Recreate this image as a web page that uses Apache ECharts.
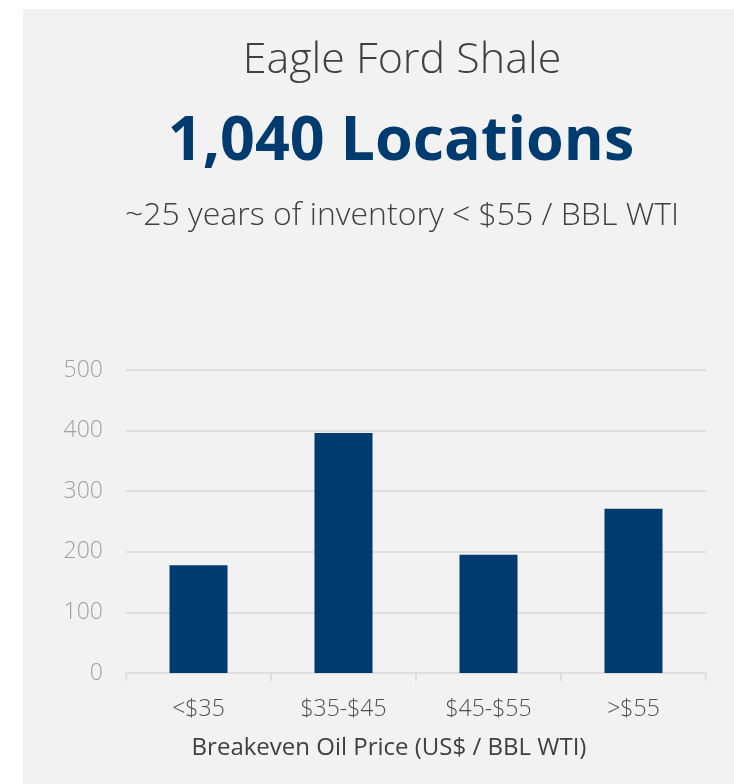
<!DOCTYPE html>
<html>
<head>
<meta charset="utf-8">
<script src="https://cdn.jsdelivr.net/npm/echarts@6/dist/echarts.min.js"></script>
<style>
    html, body { margin: 0; padding: 0; background: #ffffff; }
    #chart { width: 734px; height: 784px; }
</style>
</head>
<body>
<div id="chart"></div>
<script>
var categories = ['<$35', '$35-$45', '$45-$55', '>$55'];
var locations = [178, 396, 195, 271];
var yTicks = [0, 100, 200, 300, 400, 500];

var chart = echarts.init(document.getElementById('chart'));

var fontFamily = '"Open Sans", Lato, sans-serif';
var navy = '#003b6f';

chart.setOption({
    backgroundColor: '#ffffff',
    graphic: [{
        type: 'rect',
        z: -10,
        shape: { x: 23, y: 9, width: 720, height: 790 },
        style: { fill: '#f2f2f2' }
    }],
    title: [{
        text: 'Eagle Ford Shale',
        left: 397,
        top: 34,
        textAlign: 'center',
        textStyle: { fontFamily: fontFamily, fontSize: 43, fontWeight: 300, color: '#404040' }
    }, {
        text: '1,040 Locations',
        left: 396,
        top: 107,
        textAlign: 'center',
        textStyle: { fontFamily: fontFamily, fontSize: 61, fontWeight: 'bold', color: navy }
    }, {
        text: '~25 years of inventory < $55 / BBL WTI',
        left: 397,
        top: 195,
        textAlign: 'center',
        textStyle: { fontFamily: fontFamily, fontSize: 32, fontWeight: 300, color: '#404040' }
    }],
    grid: {
        left: 126,
        right: 28,
        top: 370,
        bottom: 111,
        containLabel: false
    },
    xAxis: {
        type: 'category',
        data: categories,
        name: 'Breakeven Oil Price (US$ / BBL WTI)',
        nameLocation: 'middle',
        nameGap: 63,
        // the label sits left of the plot centre in the original
        nameTextStyle: { fontFamily: fontFamily, fontSize: 24, color: '#404040', padding: [0, 54, 0, 0] },
        axisLine: { lineStyle: { color: '#dedede', width: 2 } },
        axisTick: { show: true, length: 8, lineStyle: { color: '#dedede', width: 2 } },
        axisLabel: { fontFamily: fontFamily, fontSize: 23, fontWeight: 300, color: '#505050', margin: 25 }
    },
    yAxis: {
        type: 'value',
        min: yTicks[0],
        max: yTicks[yTicks.length - 1],
        interval: 100,
        axisLine: { show: false },
        axisTick: { show: false },
        axisLabel: { fontFamily: fontFamily, fontSize: 23, fontWeight: 300, color: '#a0a0a0', margin: 23 },
        splitLine: { lineStyle: { color: '#dedede', width: 2 } }
    },
    series: [{
        type: 'bar',
        data: locations,
        barWidth: '40%',
        itemStyle: { color: navy },
        silent: true
    }]
});
</script>
</body>
</html>
